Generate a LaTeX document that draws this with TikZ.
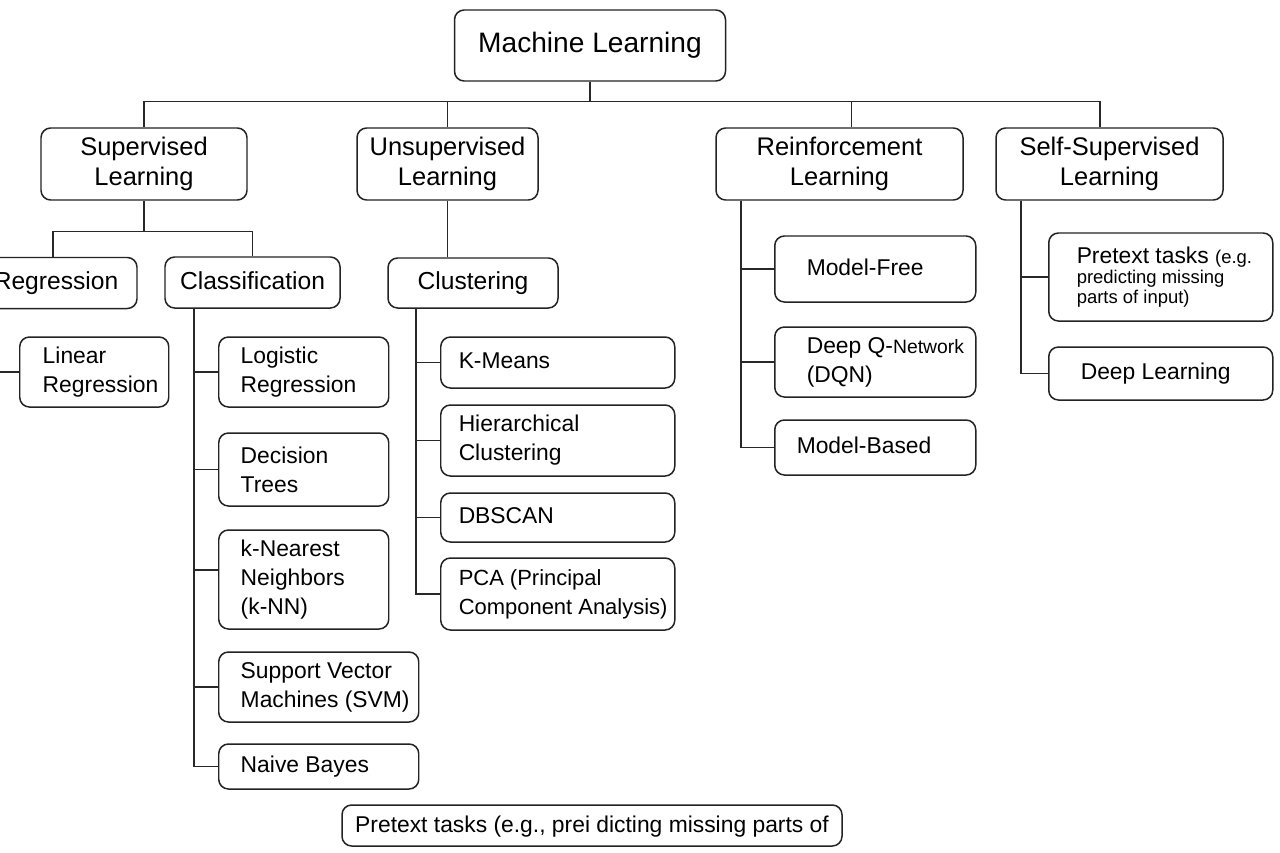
\documentclass[tikz,border=0pt]{standalone}
\usepackage{fontspec}
\setmainfont{Liberation Sans}
\usetikzlibrary{calc}
\definecolor{boxline}{RGB}{35,35,35}
\definecolor{wireline}{RGB}{40,40,40}
\hyphenpenalty=10000
\exhyphenpenalty=10000

\begin{document}
\begin{tikzpicture}[
  topbox/.style={draw=boxline, line width=0.85pt, rounded corners=5.5pt,
                 fill=white, align=center, inner sep=0pt,
                 font=\fontsize{16}{19}\selectfont},
  catbox/.style={topbox, font=\fontsize{14.5}{17.5}\selectfont},
  midbox/.style={topbox, font=\fontsize{14}{17}\selectfont,
                 text height=10.5pt, text depth=3pt},
  leafbox/.style={draw=boxline, line width=0.85pt, rounded corners=5.5pt,
                  fill=white, anchor=west, align=flush left, inner xsep=0.44cm,
                  inner ysep=0pt, text width=2.52cm,
                  font=\fontsize{13}{16.5}\selectfont},
  oneline/.style={text height=9.8pt, text depth=2.8pt},
  clubox/.style={leafbox, inner xsep=0.36cm, text width=3.96cm},
  rlbox/.style={leafbox, inner xsep=0.64cm, text width=2.74cm},
  sslbox/.style={leafbox, inner xsep=0.56cm, text width=3.36cm},
  wire/.style={draw=wireline, line width=0.75pt},
]
\useasboundingbox (0,0) rectangle (25.6,-17.06);
\fill[white] (0,0) rectangle (25.6,-17.06);
\clip (0,0) rectangle (25.6,-17.06);

% =================================================================
%  ROOT AND CATEGORIES
% =================================================================
\node[topbox, minimum width=5.42cm, minimum height=1.42cm,
      text height=11.5pt, text depth=3.5pt] (ml) at (11.8,-0.91)
  {Machine Learning};

\node[catbox, minimum width=4.12cm, minimum height=1.44cm] (sup) at (2.88,-3.28)
  {Supervised\\Learning};
\node[catbox, minimum width=3.62cm, minimum height=1.44cm] (unsup) at (8.95,-3.28)
  {Unsupervised\\Learning};
\node[catbox, minimum width=4.94cm, minimum height=1.44cm] (rl) at (16.79,-3.28)
  {Reinforcement\\Learning};
\node[catbox, minimum width=4.54cm, minimum height=1.44cm] (ssl) at (22.19,-3.28)
  {Self-Supervised\\Learning};

% =================================================================
%  SUB-TASKS
% =================================================================
\node[midbox, minimum width=3.24cm, minimum height=1.02cm] (reg) at (1.12,-5.66)
  {Regression};
\node[midbox, minimum width=3.5cm, minimum height=1.02cm] (cls) at (5.05,-5.65)
  {Classification};
\node[midbox, minimum width=3.4cm, minimum height=1.0cm] (clu) at (9.46,-5.66)
  {Clustering};

% =================================================================
%  SUPERVISED LEAVES
% =================================================================
\node[leafbox, inner xsep=0.46cm, text width=2.06cm, minimum height=1.4cm]
      (lin) at (0.38,-7.44) {Linear\\Regression};

\node[leafbox, minimum height=1.4cm] (log) at (4.36,-7.44)
  {Logistic\\Regression};
\node[leafbox, minimum height=1.46cm] (dt) at (4.36,-9.39)
  {Decision\\Trees};
\node[leafbox, minimum height=1.98cm] (knn) at (4.36,-11.59)
  {k-Nearest\\Neighbors\\(k-NN)};
\node[leafbox, text width=3.12cm, minimum height=1.4cm] (svm) at (4.36,-13.74)
  {\mbox{Support Vector}\\\mbox{Machines (SVM)}};
\node[leafbox, oneline, text width=3.12cm, minimum height=0.9cm] (nb)
      at (4.36,-15.33) {Naive Bayes};

% =================================================================
%  CLUSTERING LEAVES
% =================================================================
\node[clubox, oneline, minimum height=1.02cm] (km) at (8.8,-7.25) {K-Means};
\node[clubox, minimum height=1.42cm] (hc) at (8.8,-8.81)
  {Hierarchical\\Clustering};
\node[clubox, oneline, minimum height=0.98cm] (db) at (8.8,-10.35) {DBSCAN};
\node[clubox, minimum height=1.44cm, font=\fontsize{12.5}{16.5}\selectfont]
      (pca) at (8.8,-11.88) {\mbox{PCA (Principal}\\\mbox{Component Analysis)}};

% =================================================================
%  REINFORCEMENT AND SELF-SUPERVISED LEAVES
% =================================================================
\node[rlbox, oneline, minimum height=1.32cm] (mf) at (15.48,-5.38) {Model-Free};
\node[rlbox, minimum height=1.4cm] (dqn) at (15.48,-7.24)
  {\mbox{Deep Q-{\fontsize{11}{16.5}\selectfont Network}}\\(DQN)};
\node[rlbox, oneline, inner xsep=0.44cm, text width=3.14cm, minimum height=1.1cm]
      (mb) at (15.48,-8.95) {Model-Based};

\node[sslbox, minimum height=1.76cm, font=\fontsize{13}{11.4}\selectfont]
      (pt) at (20.96,-5.54)
  {\mbox{Pretext tasks {\fontsize{10.5}{11.4}\selectfont (e.g.}}\\
   {\fontsize{10.5}{11.4}\selectfont predicting missing\\parts of input)}};
\node[sslbox, oneline, inner xsep=0.64cm, text width=3.2cm, minimum height=1.06cm]
      (dl) at (20.96,-7.47) {Deep Learning};

% =================================================================
%  BOTTOM NOTE
% =================================================================
\node[midbox, font=\fontsize{13}{16}\selectfont, minimum width=10cm,
      minimum height=0.82cm] (note) at (11.84,-16.51)
  {Pretext tasks (e.g., prei dicting missing parts of};

% =================================================================
%  CONNECTORS
% =================================================================
\coordinate (mlbus) at ($(ml.south)+(0,-0.4)$);
\draw[wire] (ml.south) -- (mlbus) -| (sup.north);
\draw[wire] (mlbus) -| (unsup.north);
\draw[wire] (mlbus) -| ([xshift=0.24cm]rl.north);
\draw[wire] (mlbus) -| ([xshift=-0.19cm]ssl.north);

\coordinate (supbus) at ($(sup.south)+(0,-0.62)$);
\draw[wire] (sup.south) -- (supbus) -| ([xshift=-0.06cm]reg.north);
\draw[wire] (supbus) -| (cls.north);

\draw[wire] (unsup.south) -- (unsup.south |- clu.north);

\coordinate (regtrunk) at ($(reg.south)+(-1.3,0)$);
\draw[wire] (regtrunk) |- (lin.west);

\coordinate (clstrunk) at ($(cls.south)+(-1.17,0)$);
\foreach \n in {log,dt,svm,nb}
  \draw[wire] (clstrunk) |- (\n.west);
\draw[wire] (clstrunk) |- ([yshift=0.19cm]knn.west);

\coordinate (clutrunk) at ($(clu.south)+(-1.14,0)$);
\foreach \n in {km,hc,db,pca}
  \draw[wire] (clutrunk) |- (\n.west);

\coordinate (rltrunk) at ($(rl.south)+(-1.97,0)$);
\foreach \n in {mf,dqn,mb}
  \draw[wire] (rltrunk) |- (\n.west);

\coordinate (ssltrunk) at ($(ssl.south)+(-1.77,0)$);
\foreach \n in {pt,dl}
  \draw[wire] (ssltrunk) |- (\n.west);

\end{tikzpicture}
\end{document}
